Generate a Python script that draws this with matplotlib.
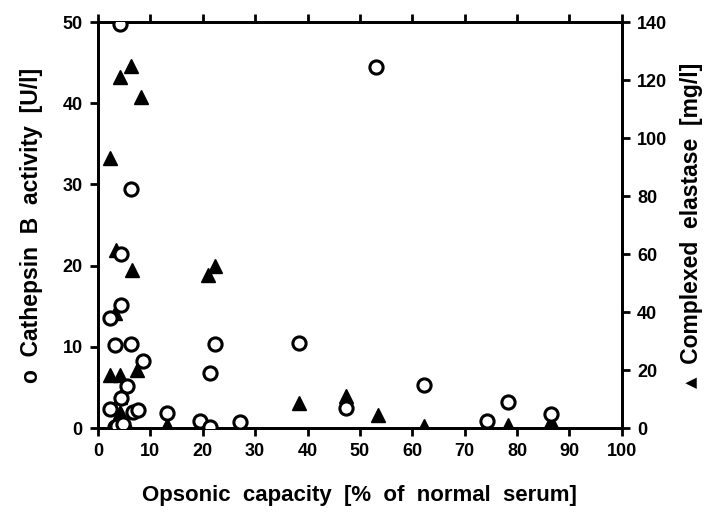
import matplotlib
matplotlib.use("Agg")
import matplotlib.pyplot as plt

plt.rcParams['font.family'] = ['Liberation Sans', 'DejaVu Sans']
plt.rcParams['font.weight'] = 'bold'

# cathepsin B activity (open circles, left axis)
cat_x = [4.2, 53.1, 6.3, 4.4, 4.4, 2.3, 3.2, 6.3, 22.3, 8.6, 21.4, 5.5,
         4.4, 2.3, 6.7, 7.6, 13.2, 19.5, 27.1, 38.4, 47.3, 62.2, 74.2,
         78.2, 86.5, 3.2, 3.6, 21.4, 4.8]
cat_y = [49.7, 44.5, 29.4, 21.4, 15.2, 13.5, 10.2, 10.3, 10.3, 8.2, 6.8, 5.2,
         3.7, 2.4, 2.0, 2.2, 1.9, 0.9, 0.8, 10.5, 2.5, 5.3, 0.9,
         3.2, 1.7, 0.1, 0.3, 0.1, 0.5]

# complexed elastase (filled triangles, right axis)
ela_x = [6.3, 4.2, 8.2, 2.3, 3.4, 6.5, 22.3, 21.0, 3.2, 2.3, 4.2, 7.4,
         4.2, 4.2, 4.8, 3.2, 13.2, 19.5, 21.4, 27.1, 38.4, 47.3, 53.4,
         62.2, 74.2, 78.2, 86.5, 5.5]
ela_y = [124.8, 121.0, 114.0, 93.0, 61.4, 54.5, 56.0, 52.8, 39.6, 18.3, 18.3, 20.0,
         10.7, 5.5, 1.7, 0.3, 1.0, 0.5, 0.3, 0.8, 8.6, 11.0, 4.5,
         0.7, 0.6, 1.2, 2.5, 1.0]

fig = plt.figure(figsize=(7.18, 5.12), dpi=100)
ax = fig.add_axes([0.1365, 0.164, 0.7295, 0.793])
ax2 = ax.twinx()

ax.plot(cat_x, cat_y, 'o', mfc='white', mec='black', mew=2.2, ms=9.5, zorder=3)
ax2.plot(ela_x, ela_y, '^', color='black', ms=10.5, zorder=2)

ax.set_xlim(0, 100)
ax.set_ylim(0, 50)
ax2.set_ylim(0, 140)
ax.set_xticks(range(0, 101, 10))
ax.set_yticks(range(0, 51, 10))
ax2.set_yticks(range(0, 141, 20))

for a in (ax, ax2):
    for s in a.spines.values():
        s.set_linewidth(2)
    a.tick_params(direction='out', width=2, length=6, labelsize=13, pad=5)
ax.tick_params(top=True)

ax.set_zorder(ax2.get_zorder() + 1)
ax.patch.set_visible(False)

ax.set_xlabel("Opsonic  capacity  [%  of  normal  serum]", fontsize=16,
              fontweight='bold', labelpad=18)
ax.set_ylabel("o  Cathepsin  B  activity  [U/l]", fontsize=16.5, labelpad=14,
              fontweight='bold')
ax2.set_ylabel("\u25b4  Complexed  elastase  [mg/l]", fontsize=16.5, labelpad=9,
               rotation=90, fontweight='bold', family=['Liberation Sans', 'DejaVu Sans'])

plt.savefig("out.png", dpi=100)
